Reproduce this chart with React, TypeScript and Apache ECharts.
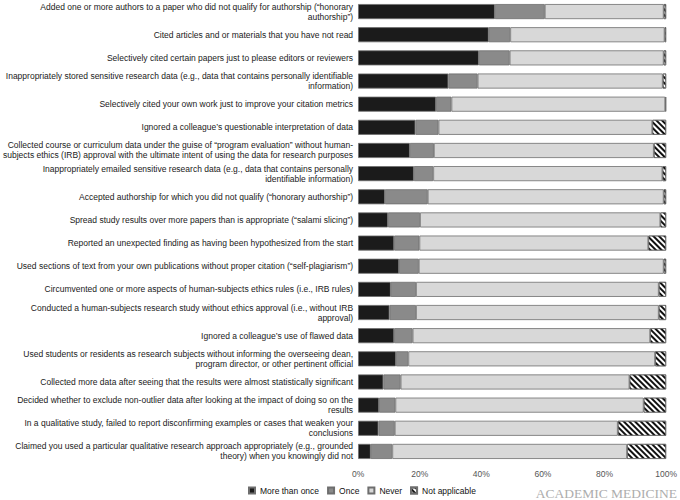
import { useRef, useEffect } from 'react';
import * as echarts from 'echarts';

const categories = [
  'Added one or more authors to a paper who did not qualify for authorship (“honorary\nauthorship”)',
  'Cited articles and or materials that you have not read',
  'Selectively cited certain papers just to please editors or reviewers',
  'Inappropriately stored sensitive research data (e.g., data that contains personally identifiable\ninformation)',
  'Selectively cited your own work just to improve your citation metrics',
  'Ignored a colleague’s questionable interpretation of data',
  'Collected course or curriculum data under the guise of “program evaluation” without human-\nsubjects ethics (IRB) approval with the ultimate intent of using the data for research purposes',
  'Inappropriately emailed sensitive research data (e.g., data that contains personally\nidentifiable information)',
  'Accepted authorship for which you did not qualify (“honorary authorship”)',
  'Spread study results over more papers than is appropriate (“salami slicing”)',
  'Reported an unexpected finding as having been hypothesized from the start',
  'Used sections of text from your own publications without proper citation (“self-plagiarism”)',
  'Circumvented one or more aspects of human-subjects ethics rules (i.e., IRB rules)',
  'Conducted a human-subjects research study without ethics approval (i.e., without IRB\napproval)',
  'Ignored a colleague’s use of flawed data',
  'Used students or residents as research subjects without informing the overseeing dean,\nprogram director, or other pertinent official',
  'Collected more data after seeing that the results were almost statistically significant',
  'Decided whether to exclude non-outlier data after looking at the impact of doing so on the\nresults',
  'In a qualitative study, failed to report disconfirming examples or cases that weaken your\nconclusions',
  'Claimed you used a particular qualitative research approach appropriately (e.g., grounded\ntheory) when you knowingly did not',
];

// percentages
const moreThanOnce = [44.4, 42.4, 39.2, 29.3, 25.3, 18.6, 16.8, 18.1, 8.7, 9.7, 11.7, 13.3, 10.6, 10.2, 11.7, 12.3, 8.2, 6.8, 6.6, 4.1];
const once = [16.2, 7.0, 10.0, 9.5, 5.0, 7.5, 7.8, 6.3, 13.9, 10.4, 8.2, 6.4, 8.2, 8.6, 6.0, 4.0, 5.6, 5.3, 5.3, 7.0];
const never = [38.6, 50.1, 50.0, 60.1, 69.4, 69.4, 71.4, 74.4, 76.6, 78.0, 74.3, 79.5, 78.8, 78.8, 77.1, 80.1, 74.3, 80.6, 72.4, 76.2];
const notApplicable = [0.8, 0.5, 0.8, 1.1, 0.3, 4.5, 4.0, 1.2, 0.8, 1.9, 5.8, 0.8, 2.4, 2.4, 5.2, 3.6, 11.9, 7.3, 15.7, 12.7];

const xTicks = [0, 20, 40, 60, 80, 100];

export default function App() {
  const chartRef = useRef<HTMLDivElement>(null);
  useEffect(() => {
    let chart: echarts.ECharts | undefined;
    if (chartRef.current) {
      chart = echarts.init(chartRef.current, undefined, { renderer: 'svg' });
      const border = { borderColor: '#6e6e6e', borderWidth: 0.8 };
      const bar = (name: string, data: number[], itemStyle: any) => ({
        name,
        type: 'bar',
        stack: 'total',
        barCategoryGap: '35%',
        data,
        itemStyle: { ...border, ...itemStyle },
      });
      chart.setOption({
        animation: false,
        textStyle: { fontFamily: 'Liberation Sans, Arial, sans-serif' },
        grid: { left: 358, right: 13, top: 0, bottom: 37 },
        legend: {
          bottom: 0,
          left: 243,
          itemWidth: 6,
          itemHeight: 6,
          itemGap: 8,
          icon: 'rect',
          textStyle: { fontSize: 8.5, color: '#111' },
        },
        xAxis: {
          type: 'value',
          min: xTicks[0],
          max: xTicks[xTicks.length - 1],
          interval: 20,
          axisLine: { show: false },
          axisTick: { show: false },
          splitLine: { show: false },
          axisLabel: { formatter: '{value}%', fontSize: 8.5, color: '#555', margin: 6 },
        },
        yAxis: {
          type: 'category',
          inverse: true,
          data: categories,
          axisLine: { show: false },
          axisTick: { show: false },
          axisLabel: {
            fontSize: 8.5,
            lineHeight: 10,
            color: '#1a1a1a',
            margin: 5,
            align: 'right',
          },
        },
        graphic: [
          {
            type: 'text',
            right: 3,
            bottom: 0,
            style: {
              text: 'ACADEMIC MEDICINE',
              fill: '#adadad',
              font: '13.5px "Liberation Serif", "Times New Roman", serif',
            },
          },
        ],
        series: [
          bar('More than once', moreThanOnce, { color: '#1b1b1b' }),
          bar('Once', once, { color: '#8a8a8a' }),
          bar('Never', never, { color: '#d8d8d8' }),
          bar('Not applicable', notApplicable, {
            color: '#ffffff',
            decal: {
              symbol: 'rect',
              color: '#111',
              dashArrayX: [1, 0],
              dashArrayY: [1.4, 1.8],
              rotation: Math.PI / 4,
            },
          }),
        ],
      });
    }
    return () => {
      chart?.dispose();
    };
  }, []);

  return (
    <div
      ref={chartRef}
      style={{ position: 'fixed', left: 0, top: 0, width: 680, height: 500, background: '#fff' }}
    />
  );
}
